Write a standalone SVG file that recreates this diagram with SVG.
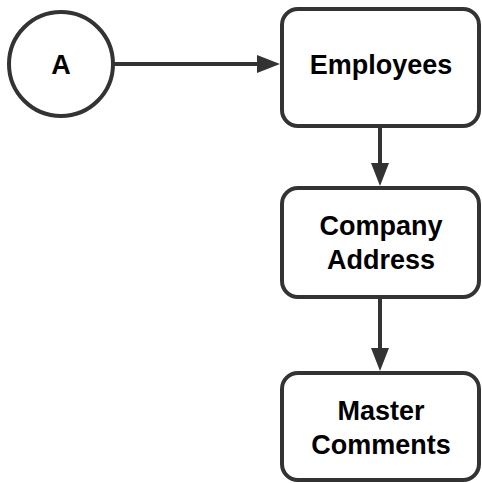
<svg xmlns="http://www.w3.org/2000/svg" width="482" height="483" viewBox="0 0 482 483">
<style>
.n{fill:#fff;stroke:#333;stroke-width:4}
.t{font-family:"Liberation Sans",Arial,sans-serif;font-weight:bold;font-size:27px;fill:#000;text-anchor:middle}
.c{stroke:#333;stroke-width:4;fill:none}
.h{fill:#333}
</style>
<rect width="482" height="483" fill="#fff"/>
<g id="connectors">
<path d="M113,64 L258,64" class="c"/>
<path d="M257,55 L280,64 L257,73 Z" class="h"/>
<path d="M380,127 L380,165" class="c"/>
<path d="M371,163 L380,186 L389,163 Z" class="h"/>
<path d="M380,298 L380,350" class="c"/>
<path d="M371,348 L380,371 L389,348 Z" class="h"/>
</g>
<g id="nodeA">
<circle cx="61" cy="64" r="52" class="n"/>
<text x="61" y="74" class="t">A</text>
</g>
<g id="employees">
<rect x="282" y="9" width="197" height="117" rx="16" class="n"/>
<text x="381" y="74" class="t">Employees</text>
</g>
<g id="companyAddress">
<rect x="282" y="188" width="197" height="109" rx="16" class="n"/>
<text x="381" y="235" class="t">Company</text>
<text x="381" y="269" class="t">Address</text>
</g>
<g id="masterComments">
<rect x="282" y="373" width="197" height="107" rx="16" class="n"/>
<text x="381" y="420" class="t">Master</text>
<text x="381" y="454" class="t">Comments</text>
</g>
</svg>
